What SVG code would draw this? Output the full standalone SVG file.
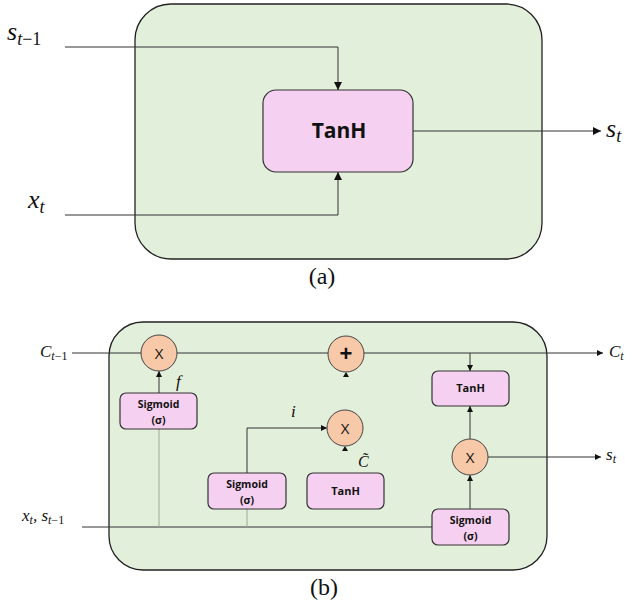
<svg xmlns="http://www.w3.org/2000/svg" width="636" height="604" viewBox="0 0 636 604">
<defs>
<style>
.cell{fill:#e2efda;stroke:#222;stroke-width:1.3}
.box{fill:#f5d0f0;stroke:#333;stroke-width:1.2}
.op{fill:#f8c9a8;stroke:#444;stroke-width:1}
.ln{fill:none;stroke:#333;stroke-width:1}
.lt{fill:none;stroke:#9ea89a;stroke-width:1}
.math{font-family:"Liberation Serif","Times New Roman",serif;font-style:italic;fill:#111}
.up{font-style:normal}
.lbl{font-family:"Open Sans","Liberation Sans",sans-serif;font-weight:bold;fill:#111;text-anchor:middle}
.opt{font-family:"Open Sans","Liberation Sans",sans-serif;fill:#111;text-anchor:middle;font-size:15px}
.cap{font-family:"Liberation Serif","Times New Roman",serif;font-size:24px;fill:#111;text-anchor:middle}
.tri{fill:#111}
</style>
<marker id="ah" viewBox="0 0 10 10" refX="10" refY="5" markerWidth="8" markerHeight="8" markerUnits="userSpaceOnUse" orient="auto"><path d="M0,0 L10,5 L0,10 z" fill="#111"/></marker>
<marker id="as" viewBox="0 0 10 10" refX="10" refY="5" markerWidth="6" markerHeight="6" markerUnits="userSpaceOnUse" orient="auto"><path d="M0,0 L10,5 L0,10 z" fill="#111"/></marker>
</defs>

<!-- (a) -->
<g id="cellA"><rect class="cell" x="135" y="4" width="407" height="255" rx="36" ry="36"/></g>
<g id="tanhA"><rect class="box" x="263" y="90" width="150" height="82" rx="13" ry="13"/><text class="lbl" x="339" y="138" font-size="21">TanH</text></g>
<g id="connA">
<path class="ln" d="M65,47 H338 V90" marker-end="url(#ah)"/>
<path class="ln" d="M65,215 H338 V172" marker-end="url(#ah)"/>
<path class="ln" d="M413,131 H601" marker-end="url(#ah)"/>
</g>
<g id="labelsA">
<text class="math" x="7" y="40" font-size="26">s<tspan font-size="18" dy="5">t</tspan><tspan class="up" font-size="18">−1</tspan></text>
<text class="math" x="28" y="208" font-size="26">x<tspan font-size="18" dy="5">t</tspan></text>
<text class="math" x="606" y="137" font-size="26">s<tspan font-size="18" dy="5">t</tspan></text>
<text class="cap" x="322" y="284">(a)</text>
</g>

<!-- (b) -->
<g id="cellB"><rect class="cell" x="109" y="322" width="438" height="248" rx="34" ry="34"/></g>
<g id="connB">
<path class="ln" d="M72,353 H141"/>
<path class="ln" d="M177,353 H328"/>
<path class="ln" d="M364,353 H603" marker-end="url(#as)"/>
<path class="ln" d="M470,353 V371" marker-end="url(#as)"/>
<path class="ln" d="M82,527 H432"/>
<path class="lt" d="M159,429 V527"/>
<path class="ln" d="M159,393 V371" marker-end="url(#as)"/>
<path class="lt" d="M247,509 V527"/>
<path class="ln" d="M247,473 V428 H327" marker-end="url(#as)"/>
<path class="ln" d="M470,509 V475" marker-end="url(#as)"/>
<path class="ln" d="M470,439 V406" marker-end="url(#as)"/>
<path class="ln" d="M488,457 H601" marker-end="url(#as)"/>
<polygon class="tri" points="343,377 349,377 346,372"/>
<polygon class="tri" points="342,451 348,451 345,446"/>
</g>
<g id="x1"><circle class="op" cx="159" cy="353" r="18"/><text class="opt" x="159" y="358.5">X</text></g>
<g id="plus"><circle class="op" cx="346" cy="354" r="18"/><text x="346" y="361" font-family="Liberation Sans, sans-serif" font-size="22" font-weight="bold" text-anchor="middle" fill="#111">+</text></g>
<g id="x2"><circle class="op" cx="345" cy="428" r="18"/><text class="opt" x="345" y="433.5">X</text></g>
<g id="x3"><circle class="op" cx="470" cy="457" r="18"/><text class="opt" x="470" y="462.5">X</text></g>
<g id="sig1"><rect class="box" x="120" y="393" width="77" height="36" rx="6" ry="6"/><text class="lbl" x="158.5" y="408" font-size="10.5">Sigmoid</text><text class="lbl" x="158.5" y="424" font-size="10.5">(σ)</text></g>
<g id="sig2"><rect class="box" x="208" y="473" width="78" height="36" rx="6" ry="6"/><text class="lbl" x="247" y="488" font-size="10.5">Sigmoid</text><text class="lbl" x="247" y="504" font-size="10.5">(σ)</text></g>
<g id="tanhMid"><rect class="box" x="307" y="473" width="77" height="36" rx="6" ry="6"/><text class="lbl" x="345.5" y="495" font-size="11">TanH</text></g>
<g id="tanhOut"><rect class="box" x="432" y="371" width="77" height="35" rx="6" ry="6"/><text class="lbl" x="470.5" y="392" font-size="11">TanH</text></g>
<g id="sig3"><rect class="box" x="432" y="509" width="77" height="36" rx="6" ry="6"/><text class="lbl" x="470.5" y="524" font-size="10.5">Sigmoid</text><text class="lbl" x="470.5" y="540" font-size="10.5">(σ)</text></g>
<g id="labelsB">
<text class="math" x="40" y="357" font-size="17">C<tspan font-size="12" dy="3">t</tspan><tspan class="up" font-size="12">−1</tspan></text>
<text class="math" x="22" y="521" font-size="17">x<tspan font-size="12" dy="3">t</tspan><tspan dy="-3">, s</tspan><tspan font-size="12" dy="3">t</tspan><tspan class="up" font-size="12">−1</tspan></text>
<text class="math" x="609" y="357" font-size="17">C<tspan font-size="12" dy="3">t</tspan></text>
<text class="math" x="606" y="460" font-size="17">s<tspan font-size="12" dy="3">t</tspan></text>
<text class="math" x="176" y="387" font-size="17">f</text>
<text class="math" x="291" y="417" font-size="17">i</text>
<text class="math" x="358" y="467" font-size="16">C̃</text>
<text class="cap" x="324" y="595">(b)</text>
</g>
</svg>
